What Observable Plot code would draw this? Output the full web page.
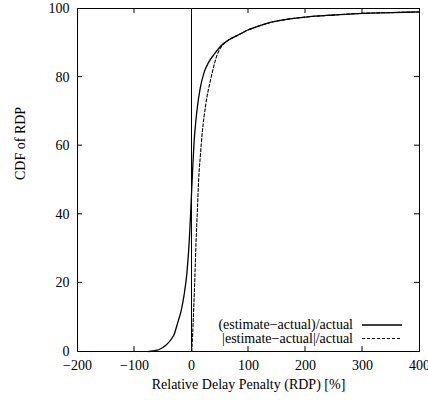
<!DOCTYPE html>
<html>
<head>
<meta charset="utf-8">
<script src="https://cdn.jsdelivr.net/npm/d3@7"></script>
<script src="https://cdn.jsdelivr.net/npm/@observablehq/plot@0.6"></script>
<style>
  html, body { margin: 0; padding: 0; background: #fff; }
  svg { overflow: visible; }
</style>
</head>
<body>
<div id="chart"></div>
<script>
const xTicks = [-200, -100, 0, 100, 200, 300, 400];
const xInnerTicks = [-100, 100, 200, 300];
const yTicks = [0, 20, 40, 60, 80, 100];
const yInnerTicks = [20, 40, 60, 80];
const xLabel = "Relative Delay Penalty (RDP) [%]";
const yLabel = "CDF of RDP";
const seriesNames = ["(estimate\u2212actual)/actual", "|estimate\u2212actual|/actual"];

// (estimate-actual)/actual
const signedX = [-75, -62, -54, -45, -36, -30, -24, -18, -13, -8, -4, -1, 0, 2, 4.5, 7.5, 10.5, 15, 22, 30, 40, 51, 65, 80, 100, 120, 140, 170, 200, 250, 300, 350, 400];
const signedY = [0, 0.3, 0.8, 1.8, 3.5, 5.2, 8.5, 12, 16.5, 23, 32, 42, 46, 53, 61, 67, 71.5, 76.5, 81.3, 84.3, 86.7, 89, 90.8, 92.1, 93.8, 95, 96, 96.9, 97.5, 98.1, 98.6, 98.8, 99];

// |estimate-actual|/actual
const absX = [0.5, 2, 4, 6, 8, 10.5, 12.5, 15.5, 19, 25, 34, 45, 52, 65, 80, 100, 120, 140, 170, 200, 250, 300, 350, 400];
const absY = [0, 5, 13, 22, 32, 42, 50, 57, 64, 72, 79.6, 86.5, 88.8, 90.8, 92.1, 93.8, 95, 96, 96.9, 97.5, 98.1, 98.6, 98.8, 99];

const signed = signedX.map((x, i) => ({x, y: signedY[i]}));
const absolute = absX.map((x, i) => ({x, y: absY[i]}));

const dashes = [null, "3,2"];
const tickLen = 5;

const plot = Plot.plot({
  width: 428,
  height: 400,
  marginLeft: 77,
  marginRight: 9,
  marginTop: 8,
  marginBottom: 49,
  style: {fontFamily: "'Liberation Serif', 'Times New Roman', serif", fontSize: "14px", color: "#000", background: "#fff", overflow: "visible"},
  x: {domain: [-200, 400]},
  y: {domain: [0, 100]},
  marks: [
    Plot.axisX({ticks: xTicks, tickSize: 0, tickPadding: 9, label: null}),
    Plot.axisY({ticks: yTicks, tickSize: 0, tickPadding: 8, label: null}),
    Plot.ruleX([0], {stroke: "#000", strokeWidth: 1}),
    Plot.line(signed, {x: "x", y: "y", curve: "monotone-x", stroke: "#000", strokeWidth: 1.3}),
    Plot.line(absolute, {x: "x", y: "y", curve: "monotone-x", stroke: "#000", strokeWidth: 1.1, strokeDasharray: dashes[1]}),
    Plot.frame({stroke: "#000", strokeWidth: 1}),
    Plot.text([xLabel], {text: d => d, frameAnchor: "bottom", dy: 33, lineAnchor: "middle", fill: "#000"}),
    Plot.text([yLabel], {text: d => d, frameAnchor: "left", dx: -57, rotate: -90, lineAnchor: "middle", fill: "#000"})
  ]
});

const sx = plot.scale("x"), sy = plot.scale("y");
const fx0 = sx.apply(-200), fx1 = sx.apply(400);
const fy0 = sy.apply(0), fy1 = sy.apply(100);
const svg = d3.select(plot);

// inward mirrored ticks
const tg = svg.append("g").attr("stroke", "#000").attr("stroke-width", 1);
xInnerTicks.forEach(v => {
  const px = sx.apply(v);
  tg.append("line").attr("x1", px).attr("x2", px).attr("y1", fy0).attr("y2", fy0 - tickLen);
  tg.append("line").attr("x1", px).attr("x2", px).attr("y1", fy1).attr("y2", fy1 + tickLen);
});
yInnerTicks.forEach(v => {
  const py = sy.apply(v);
  tg.append("line").attr("x1", fx0).attr("x2", fx0 + tickLen).attr("y1", py).attr("y2", py);
  tg.append("line").attr("x1", fx1).attr("x2", fx1 - tickLen).attr("y1", py).attr("y2", py);
});

// legend inside the frame, bottom-right
const lg = svg.append("g").attr("transform", `translate(${fx1 - 66},${fy0 - 26})`);
seriesNames.forEach((name, i) => {
  const row = lg.append("g").attr("transform", `translate(0,${i * 13.5})`);
  row.append("text").attr("x", 0).attr("y", 0).attr("dy", "0.32em")
    .attr("text-anchor", "end").attr("fill", "#000")
    .style("font-family", "'Liberation Serif', serif").style("font-size", "14px").text(name);
  row.append("line").attr("x1", 9).attr("x2", 49).attr("y1", 0).attr("y2", 0)
    .attr("stroke", "#000").attr("stroke-width", i === 0 ? 1.3 : 1.1)
    .attr("stroke-dasharray", dashes[i]);
});

document.getElementById("chart").appendChild(plot);
</script>
</body>
</html>
